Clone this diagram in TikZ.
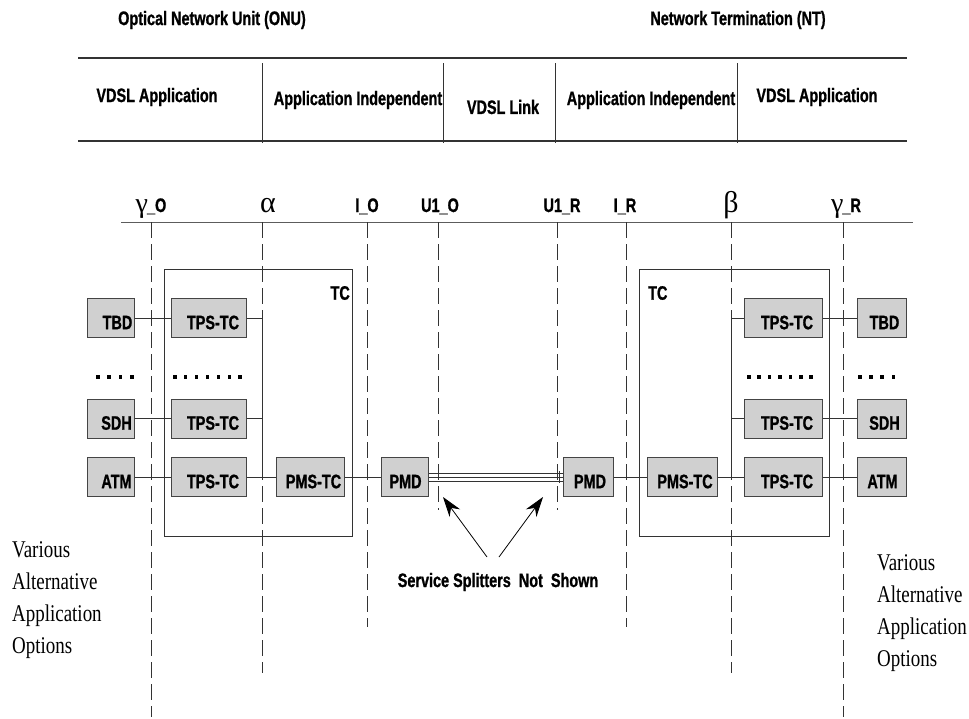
\documentclass[tikz,border=0pt]{standalone}
\usepackage{fontspec}
\usetikzlibrary{arrows.meta}
\newfontfamily\lblfont[FakeStretch=0.74,BoldFeatures={FakeBold=1}]{Liberation Sans}
\newfontfamily\serfont[FakeStretch=0.79]{Liberation Serif}
\newfontfamily\grkfont{Liberation Serif}
\definecolor{lc}{HTML}{333333}
\definecolor{bc}{HTML}{444444}
\definecolor{bf}{HTML}{D0D0D0}
\tikzset{
  ln/.style={draw=lc, line width=1pt},
  tbl/.style={draw=lc, line width=1.5pt},
  dsh/.style={draw=lc, line width=1pt, dash pattern=on 16pt off 6pt},
  blk/.style={draw=bc, fill=bf, line width=1pt, minimum height=39pt, inner sep=0pt},
  tcbox/.style={draw=lc, line width=1pt},
  bt/.style={font=\lblfont\bfseries\fontsize{19.5}{19.5}\selectfont, inner sep=0pt},
  grk/.style={font=\grkfont\fontsize{30}{30}\selectfont, inner sep=0pt},
  st/.style={font=\serfont\fontsize{24}{32}\selectfont, inner sep=0pt, align=left},
  arr/.style={draw=black, line width=0.8pt, -{Stealth[length=20pt,width=13pt]}},
  dot/.style={fill=black},
}
\begin{document}
\begin{tikzpicture}[x=1pt,y=-1pt]
\useasboundingbox (0,0) rectangle (969,718);

% ---- titles
\node[bt] (onu) at (212,20) {Optical Network Unit (ONU)};
\node[bt] (nt) at (738,20) {Network Termination (NT)};

% ---- table
\draw[tbl] (78,58) -- (907,58);
\draw[tbl] (78,141) -- (907,141);
\foreach \x in {262,443,555,737} \draw[ln] (\x,63) -- (\x,143);
\node[bt] (t1) at (157,97) {VDSL Application};
\node[bt] (t2) at (358,100) {Application Independent};
\node[bt] (t3) at (503,107) {VDSL Link};
\node[bt] (t4) at (651,100) {Application Independent};
\node[bt] (t5) at (817,97) {VDSL Application};

% ---- reference line and labels
\draw[draw=lc!80, line width=1pt] (121,222) -- (913,222);
\node[anchor=base, inner sep=0pt] (lgo) at (151,212) {{\grkfont\fontsize{28}{28}\selectfont γ}\kern-1pt{\lblfont\bfseries\fontsize{19.5}{19.5}\selectfont\_O}};
\node[grk, anchor=base] (lal) at (268,212) {α};
\node[bt, anchor=base] (lio) at (367,212) {I\_O};
\node[bt, anchor=base] (luo) at (440,212) {U1\_O};
\node[bt, anchor=base] (lur) at (562,212) {U1\_R};
\node[bt, anchor=base] (lir) at (625,212) {I\_R};
\node[grk, anchor=base] (lbe) at (731,212) {β};
\node[anchor=base, inner sep=0pt] (lgr) at (846,212) {{\grkfont\fontsize{28}{28}\selectfont γ}\kern-1pt{\lblfont\bfseries\fontsize{19.5}{19.5}\selectfont\_R}};

% ---- dashed reference lines
\draw[dsh] (151,222) -- (151,717);
\draw[dsh] (262,222) -- (262,673);
\draw[dsh] (367,222) -- (367,627);
\draw[dsh] (438,222) -- (438,510);
\draw[dsh] (557,222) -- (557,510);
\draw[dsh] (626,222) -- (626,627);
\draw[dsh] (731,222) -- (731,673);
\draw[dsh] (843,222) -- (843,717);

% ---- TC boxes
\draw[tcbox] (164,269) rectangle (352,536);
\draw[tcbox] (639,269) rectangle (829,536);
\node[bt, anchor=east] (tcL) at (350,293) {TC};
\node[bt, anchor=west] (tcR) at (648,293) {TC};

% ---- blocks left
\node[blk, minimum width=47pt] (tbdL) at (110.5,318) {};
\node[blk, minimum width=47pt] (sdhL) at (110.5,418.5) {};
\node[blk, minimum width=47pt] (atmL) at (110.5,477) {};
\node[blk, minimum width=75pt] (tps1L) at (208.5,318) {};
\node[blk, minimum width=75pt] (tps2L) at (208.5,418.5) {};
\node[blk, minimum width=75pt] (tps3L) at (208.5,477) {};
\node[blk, minimum width=68pt] (pmsL) at (310,477) {};
\node[blk, minimum width=47pt] (pmdL) at (404.5,477) {};
% ---- blocks right
\node[blk, minimum width=50pt] (pmdR) at (588,477) {};
\node[blk, minimum width=70pt] (pmsR) at (682,477) {};
\node[blk, minimum width=78pt] (tps1R) at (783,318) {};
\node[blk, minimum width=78pt] (tps2R) at (783,418.5) {};
\node[blk, minimum width=78pt] (tps3R) at (783,477) {};
\node[blk, minimum width=49pt] (tbdR) at (881.5,318) {};
\node[blk, minimum width=49pt] (sdhR) at (881.5,418.5) {};
\node[blk, minimum width=49pt] (atmR) at (881.5,477) {};

% ---- block texts
\foreach \n/\t/\dx in {tbdL/TBD/7,sdhL/SDH/6,atmL/ATM/6,tps1L/TPS-TC/4.5,tps2L/TPS-TC/4.5,tps3L/TPS-TC/4.5,pmsL/PMS-TC/3.5,pmdL/PMD/1,pmdR/PMD/2,pmsR/PMS-TC/3,tps1R/TPS-TC/4,tps2R/TPS-TC/4,tps3R/TPS-TC/4,tbdR/TBD/3,sdhR/SDH/3,atmR/ATM/1}
  \node[bt] at ([shift={(\dx,4.5)}]\n.center) {\t};

% ---- buses
\coordinate (busLt) at (262,318);
\coordinate (busLb) at (262,477);
\coordinate (busRt) at (731,318);
\coordinate (busRb) at (731,477);
\draw[ln] (busLt) -- (busLb);
\draw[ln] (busRt) -- (busRb);

% ---- connectors left
\draw[ln] (tbdL) -- (tps1L);
\draw[ln] (sdhL) -- (tps2L);
\draw[ln] (atmL) -- (tps3L);
\draw[ln] (tps1L.east) -- (busLt);
\draw[ln] (tps2L.east) -- (tps2L.east -| busLt);
\draw[ln] (tps3L) -- (pmsL);
\draw[ln] (pmsL) -- (pmdL);
% ---- line
\foreach \dy in {-4,0,4}
  \draw[draw=lc, line width=0.8pt] ([yshift=\dy]pmdL.east) -- ([yshift=\dy]pmdR.west);
\draw[draw=lc, line width=0.8pt] ([xshift=-3]pmdR.west) ++(0,-6) -- ++(0,12);
% ---- connectors right
\draw[ln] (pmdR) -- (pmsR);
\draw[ln] (pmsR) -- (tps3R);
\draw[ln] (tps1R.west) -- (busRt);
\draw[ln] (tps2R.west) -- (tps2R.west -| busRt);
\draw[ln] (tps1R) -- (tbdR);
\draw[ln] (tps2R) -- (sdhR);
\draw[ln] (tps3R) -- (atmR);

% ---- dots
\foreach \x in {96,107.3,118.7,130} \fill[dot] (\x,375.25) rectangle ++(3.5,3.5);
\foreach \i in {0,...,6} \fill[dot] (173+10.9*\i,375.25) rectangle ++(3.5,3.5);
\foreach \i in {0,...,6} \fill[dot] (747+10.4*\i,375.25) rectangle ++(3.5,3.5);
\foreach \x in {858,869.2,880.4,891.5} \fill[dot] (\x,375.25) rectangle ++(3.5,3.5);

% ---- splitter note
\node[bt] (ssn) at (498,582) {Service Splitters\ \ Not\ \ Shown};
\coordinate (a1s) at (487,557);
\coordinate (a1e) at (443,497);
\coordinate (a2s) at (499,557);
\coordinate (a2e) at (543,497);
\draw[arr] (a1s) -- (a1e);
\draw[arr] (a2s) -- (a2e);

% ---- side notes
\node[st, anchor=north west] (vL) at (12,541) {Various\\Alternative\\Application\\Options};
\node[st, anchor=north west] (vR) at (877,554) {Various\\Alternative\\Application\\Options};
\end{tikzpicture}
\end{document}
